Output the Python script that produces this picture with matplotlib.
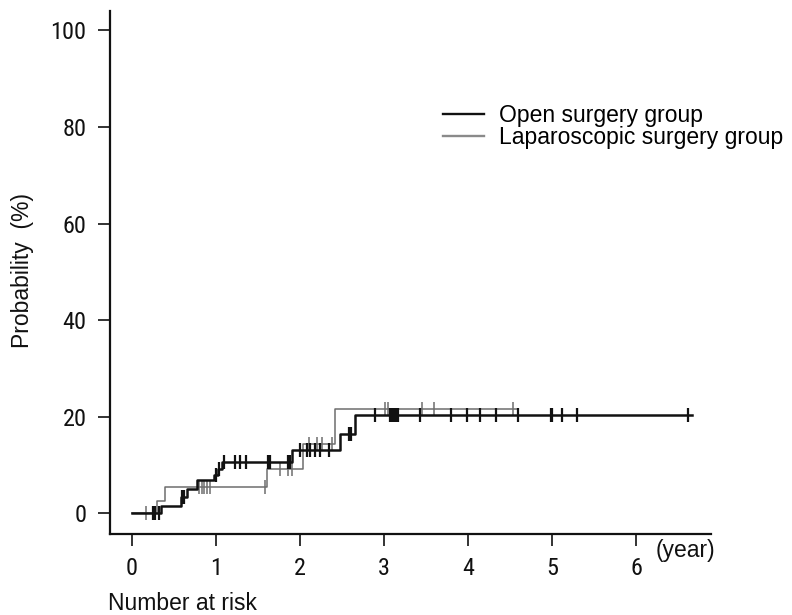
import numpy as np
import matplotlib
matplotlib.use("Agg")
import matplotlib.pyplot as plt
from matplotlib import font_manager

# Cumulative incidence (%) - step events, censor times, last follow-up (years)
OPEN_EVENT_T = [0.345, 0.58, 0.65, 0.77, 0.97, 1.02, 1.07, 1.90, 2.47, 2.65]
OPEN_EVENT_P = [1.5, 3.3, 5.1, 6.9, 8.0, 9.2, 10.6, 13.2, 16.5, 20.4]
OPEN_CENSOR = [0.25, 0.27, 0.32, 0.59, 0.62, 1.00, 1.04, 1.09, 1.23, 1.29,
               1.35, 1.62, 1.64, 1.86, 1.88, 2.00, 2.08, 2.12, 2.18, 2.24,
               2.34, 2.58, 2.60, 2.89, 3.07, 3.09, 3.11, 3.13, 3.15, 3.17,
               3.43, 3.79, 3.98, 4.14, 4.33, 4.59, 4.98, 5.00, 5.12, 5.30, 6.62]
OPEN_END = 6.66

LAP_EVENT_T = [0.30, 0.39, 1.60, 2.03, 2.42]
LAP_EVENT_P = [2.6, 5.4, 9.1, 14.3, 21.5]
LAP_CENSOR = [0.17, 0.80, 0.83, 0.86, 0.89, 0.93, 1.58, 1.76, 1.86, 1.90,
              2.10, 2.20, 2.26, 2.38, 3.01, 3.05, 3.45, 3.59, 4.53]
LAP_END = 4.58

X_TICKS = [0, 1, 2, 3, 4, 5, 6]
Y_TICKS = [0, 20, 40, 60, 80, 100]

# tick labels in the reference use a narrow face; take one if installed
names = {f.name for f in font_manager.fontManager.ttflist}
NARROW, TICK_FS = "Liberation Sans", 16
for cand in ["Liberation Sans Narrow", "Roboto Condensed", "Open Sans Condensed"]:
    if cand in names:
        NARROW, TICK_FS = cand, 17.5
        break
plt.rcParams["font.family"] = ["Liberation Sans", "DejaVu Sans"]


def curve(ev_t, ev_p, end):
    t = np.concatenate([[0.0], ev_t, [end]])
    p = np.concatenate([[0.0], ev_p, [ev_p[-1]]])
    return t, p


def at(ev_t, ev_p, times):
    idx = np.searchsorted(ev_t, times, side="right")
    vals = np.concatenate([[0.0], ev_p])
    return vals[idx]


fig = plt.figure(figsize=(7.92, 6.15), dpi=100)
ax = fig.add_axes([0.1383, 0.1317, 0.7595, 0.8509])

# laparoscopic (gray, thin)
t, p = curve(LAP_EVENT_T, LAP_EVENT_P, LAP_END)
ax.step(t, p, where="post", color="#6e6e6e", lw=1.1, zorder=2)
ax.plot(LAP_CENSOR, at(LAP_EVENT_T, LAP_EVENT_P, LAP_CENSOR), ls="none",
        marker="|", ms=9.5, mew=1.1, color="#6e6e6e", zorder=2)

# open (black, thick)
t, p = curve(OPEN_EVENT_T, OPEN_EVENT_P, OPEN_END)
ax.step(t, p, where="post", color="#111111", lw=1.8, zorder=3)
ax.plot(OPEN_CENSOR, at(OPEN_EVENT_T, OPEN_EVENT_P, OPEN_CENSOR), ls="none",
        marker="|", ms=9.5, mew=1.6, color="#111111", zorder=3)

# legend entries
ax.plot([], [], color="#111111", lw=1.7, label="Open surgery group")
ax.plot([], [], color="#8a8a8a", lw=1.7, label="Laparoscopic surgery group")
handles, labels = ax.get_legend_handles_labels()
ax.legend(handles[-2:], labels[-2:], loc="upper left",
          bbox_to_anchor=(0.5545, 0.822), frameon=False, fontsize=16.5,
          handlelength=1.78, handletextpad=0.65, labelspacing=-0.05,
          borderpad=0, borderaxespad=0)

ax.set_xlim(-0.268, 6.89)
ax.set_ylim(-4.3, 104.1)
ax.set_xticks(X_TICKS)
ax.set_yticks(Y_TICKS)
for lab in ax.get_xticklabels() + ax.get_yticklabels():
    lab.set_family(NARROW)
    lab.set_fontsize(TICK_FS)
ax.tick_params(length=8.5, width=1.2, color="#111111", labelcolor="#111111")
ax.tick_params(axis="x", pad=8)
ax.tick_params(axis="y", pad=8)

for s in ["top", "right"]:
    ax.spines[s].set_visible(False)
for s in ["left", "bottom"]:
    ax.spines[s].set_linewidth(1.6)
    ax.spines[s].set_color("#111111")

fig.text(23 / 792, 1 - 271 / 615, "Probability  (%)", rotation=90,
         ha="center", va="center", fontsize=16.5, color="#111111")
fig.text(656 / 792, 1 - 551 / 615, "(year)", ha="left", va="center",
         fontsize=16.5, color="#111111")
fig.text(108 / 792, 1 - 604 / 615, "Number at risk", ha="left", va="center",
         fontsize=16.5, color="#111111")

fig.savefig("out.png", dpi=100)
